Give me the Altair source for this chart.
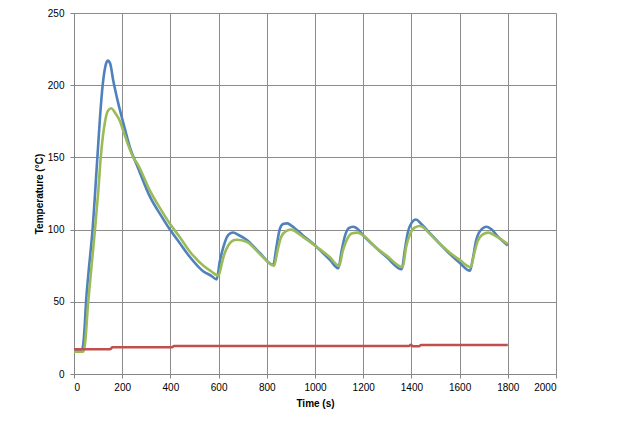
import altair as alt
import pandas as pd

# Blue series
blue_t = [0, 32, 38, 44, 50, 59, 77, 97, 108, 119, 130, 140, 150, 163, 180, 205, 232, 265, 315, 360, 398, 440, 481, 537, 570, 592,
          605, 620, 635, 650, 661, 680, 716, 772, 827, 840, 855, 870, 885, 900, 950, 1007, 1062, 1097, 1110, 1125, 1140, 1159,
          1180, 1200, 1250, 1297, 1360, 1372, 1385, 1400, 1419, 1440, 1477, 1519, 1560, 1600, 1643, 1655, 1668, 1685, 1712,
          1730, 1760, 1800]
blue_v = [16.6, 16.8, 20, 32, 50, 68, 100, 150, 178, 200, 213, 217, 215, 203, 190, 173.6, 157, 143, 122.8, 110, 100, 90.4, 81,
          71, 68, 65.5,
          78, 88, 95, 97.5, 98, 96.5, 93, 83.6, 75.5, 88, 101, 104, 104.3, 103, 96, 88, 79, 73.2, 85, 96, 101, 102,
          100, 96, 88, 81, 72.5, 85, 98, 104.5, 107, 104, 97.4, 90, 83, 77, 71.5, 80, 92, 99, 102,
          100.5, 95, 89]

# Green series
green_t = [0, 39, 45, 59, 73, 87, 100, 111, 129, 140, 154, 170, 191, 205, 246, 265, 315, 360, 398, 440, 481, 537, 570, 599,
           610, 620, 640, 660, 675, 716, 772, 830, 845, 860, 880, 899, 950, 1007, 1062, 1100, 1115, 1135, 1155, 1176, 1200,
           1250, 1297, 1364, 1378, 1395, 1415, 1436, 1477, 1519, 1560, 1600, 1646, 1660, 1675, 1695, 1719, 1750, 1800]
green_v = [15.4, 15.5, 20, 50, 75, 100, 125, 150, 175, 182, 184, 181, 175, 168, 150, 145, 127, 114, 104, 94.5, 84.7, 75,
           71, 68,
           74, 81, 89, 92.5, 93, 91.6, 83, 75, 86, 95, 99, 100, 95, 88, 80.8, 74.8, 85, 94, 97.5, 97.9, 96,
           88, 82, 74, 88, 97, 101.5, 102.5, 97, 90, 84, 79, 74, 83, 92, 96.5, 97.9, 95.5, 90]

# Red series
red_t = [0, 149, 160, 405, 415, 1390, 1398, 1405, 1432, 1440, 1800]
red_v = [17.1, 17.1, 18.5, 18.5, 19.4, 19.4, 20.3, 19.2, 19.2, 20.1, 20.1]

x_ticks = list(range(0, 2001, 200))
y_ticks = list(range(0, 251, 50))

FONT = "Liberation Sans"

x_enc = alt.X("t:Q", scale=alt.Scale(domain=[0, 2000], nice=False),
              axis=alt.Axis(values=x_ticks, title="Time (s)", format="d"))
y_enc = alt.Y("v:Q", scale=alt.Scale(domain=[0, 250], nice=False),
              axis=alt.Axis(values=y_ticks, title="Temperature (°C)", format="d"))


def line(ts, vs, color):
    df = pd.DataFrame({"t": ts, "v": vs})
    return alt.Chart(df).mark_line(color=color, strokeWidth=2.6, interpolate="monotone").encode(
        x=x_enc, y=y_enc, order="t:Q")


chart = alt.layer(
    line(blue_t, blue_v, "#4F81BD"),
    line(green_t, green_v, "#9BBB59"),
    line(red_t, red_v, "#C0504D"),
).properties(
    width=482, height=361,
    autosize="none",
    padding={"left": 66, "top": 5, "right": 70, "bottom": 40},
).configure_view(
    stroke=None
).configure_axis(
    grid=True, gridColor="#8c8c8c", gridWidth=1,
    domainColor="#868686", domainWidth=1,
    tickColor="#868686", tickSize=4,
    labelFont=FONT, labelFontSize=10, labelColor="#000000",
    titleFont=FONT, titleFontSize=10, titleFontWeight="bold", titleColor="#000000",
).configure_axisX(
    labelPadding=4,
    titlePadding=6,
).configure_axisY(
    labelPadding=6,
    titlePadding=3,
)

chart.save("out.html", embed_options={"renderer": "svg", "actions": False})
